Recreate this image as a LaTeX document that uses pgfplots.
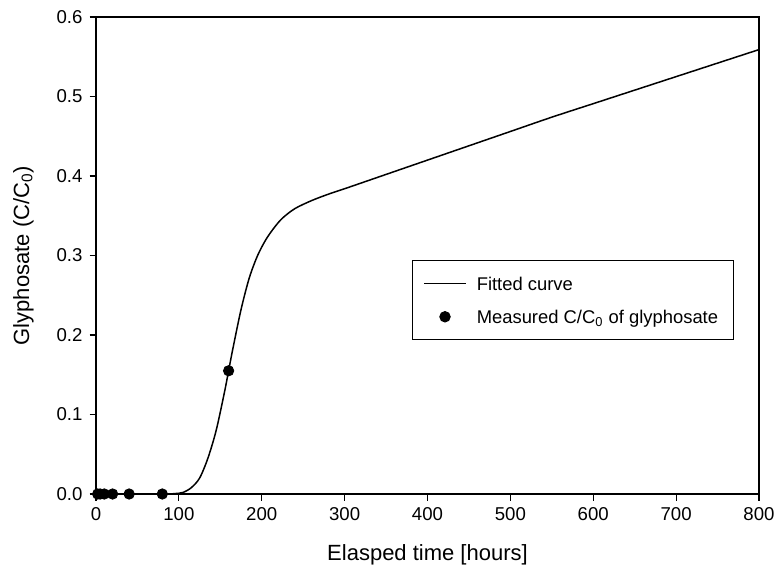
\documentclass[border=0pt]{standalone}
\usepackage{fontspec}
\setmainfont{Liberation Sans}
\usepackage{pgfplots}
\pgfplotsset{compat=1.18}
\pgfplotsset{
  fitline legend/.style={legend image code/.code={\draw[#1] (0pt,0pt) -- (21pt,0pt);}},
  dot legend/.style={legend image code/.code={\draw[#1] plot coordinates {(10.5pt,0pt)};}},
}

\begin{document}
\begin{tikzpicture}
  \begin{axis}[
    name=ax,
    scale only axis,
    width=331.5pt, height=238.5pt,
    xmin=0, xmax=800, ymin=0, ymax=0.6,
    xtick={0,100,...,800}, ytick={0,0.1,...,0.6},
    tick align=outside, tick pos=left,
    major tick length=3.25pt,
    axis line style={line width=0.6pt},
    tick style={line width=0.6pt, black},
    /pgf/number format/assume math mode=true,
    yticklabel style={/pgf/number format/.cd, fixed, fixed zerofill, precision=1},
    xticklabel style={/pgf/number format/.cd, fixed},
    ticklabel style={font=\fontsize{9.3}{11}\selectfont},
    xlabel={Elasped time [hours]},
    ylabel={Glyphosate (C/C\textsubscript{0})},
    label style={font=\fontsize{11}{13}\selectfont},
    xlabel style={at={(rel axis cs:0.5,0)}, anchor=center, yshift=-30.5pt},
    ylabel style={at={(rel axis cs:0,0.5)}, anchor=center, yshift=36.25pt},
    legend style={at={(axis cs:381,0.294)}, anchor=north west,
      draw=black, line width=0.5pt, font=\fontsize{9.2}{11}\selectfont,
      inner xsep=5.5pt, inner ysep=6pt, row sep=6pt, column sep=3pt,
      nodes={text depth=0pt}},
    legend cell align=left,
  ]
  \addplot[black, line width=0.75pt, smooth, fitline legend]
    coordinates {
      (0,0) (80,0) (95,0.0005) (105,0.002) (115,0.008) (125,0.02)
      (135,0.045) (145,0.08) (155,0.128) (160,0.155) (165,0.182)
      (175,0.232) (185,0.272) (195,0.300) (205,0.320) (215,0.335)
      (225,0.347) (240,0.359) (260,0.369) (280,0.377) (300,0.384)
      (350,0.402) (400,0.420) (450,0.438) (500,0.456) (550,0.474)
      (600,0.491) (650,0.508) (700,0.525) (750,0.542) (800,0.559)
    };
  \addlegendentry{Fitted curve}
  \addplot[only marks, mark=*, mark size=2.6pt, black, clip marker paths=false, dot legend]
    coordinates {
      (2,0) (5,0) (10,0) (20,0) (40,0) (80,0) (160,0.155)
    };
  \addlegendentry{Measured C/C\textsubscript{0} of glyphosate\hspace{4pt}}
  \end{axis}
  \pgfresetboundingbox
  \path[use as bounding box] ([shift={(-48pt,-36pt)}]ax.south west)
    rectangle ([shift={(9pt,8.5pt)}]ax.north east);
\end{tikzpicture}
\end{document}
